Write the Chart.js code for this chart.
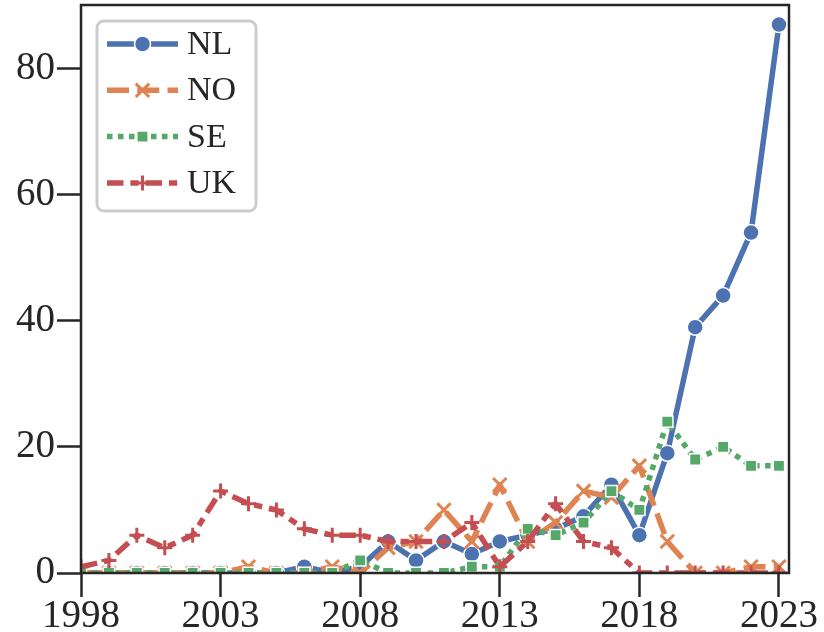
<!DOCTYPE html>
<html>
<head>
<meta charset="utf-8">
<script src="https://cdn.jsdelivr.net/npm/chart.js@4.4.0/dist/chart.umd.min.js"></script>
<style>
  html, body { margin: 0; padding: 0; background: #ffffff; }
  #caixa { width: 824px; height: 632px; }
</style>
</head>
<body>
<div id="caixa"><canvas id="grafico" width="824" height="632"></canvas></div>
<script>
// Dados
const anos = [1998, 1999, 2000, 2001, 2002, 2003, 2004, 2005, 2006, 2007, 2008, 2009, 2010,
              2011, 2012, 2013, 2014, 2015, 2016, 2017, 2018, 2019, 2020, 2021, 2022, 2023];
const valoresNL = [0, 0, 0, 0, 0, 0, 0, 0, 1, 0, 1, 5, 2, 5, 3, 5, 6, 7, 9, 14, 6, 19, 39, 44, 54, 87];
const valoresNO = [0, 0, 0, 0, 0, 0, 1, 0, 0, 1, 0, 4, 5, 10, 5, 14, 5, 8, 13, 12, 17, 5, 0, 0, 1, 1];
const valoresSE = [0, 0, 0, 0, 0, 0, 0, 0, 0, 0, 2, 0, 0, 0, 1, 1, 7, 6, 8, 13, 10, 24, 18, 20, 17, 17];
const valoresUK = [1, 2, 6, 4, 6, 13, 11, 10, 7, 6, 6, 5, 5, 5, 8, 1, 5, 11, 5, 4, 0, 0, 0, 0, 0, 0];

const ticksX = [1998, 2003, 2008, 2013, 2018, 2023];
const ticksY = [0, 20, 40, 60, 80];

const nomes = ['NL', 'NO', 'SE', 'UK'];
const cores = ['#4C72B0', '#DD8452', '#55A868', '#C44E52'];

const corEixo = '#262626';
const fonteSerif = "'Liberation Serif', 'DejaVu Serif', serif";
const espessura = 5.5;

// estilo de cada série (tracejado e marcador)
const estilos = [
  { dash: [], ponto: 'circle', raio: 8, bordaPonto: 1.5, corBorda: '#ffffff' },
  { dash: [22, 8.25], ponto: 'crossRot', raio: 9.5, bordaPonto: 3, corBorda: null },
  { dash: [5.5, 5.5], ponto: 'rect', raio: 8, bordaPonto: 1.5, corBorda: '#ffffff' },
  { dash: [16.5, 6.9, 8.25, 6.9], ponto: 'cross', raio: 7.5, bordaPonto: 3, corBorda: null }
];

const series = [valoresNL, valoresNO, valoresSE, valoresUK];

const datasets = series.map((valores, i) => {
  const e = estilos[i];
  return {
    label: nomes[i],
    data: anos.map((ano, k) => ({ x: ano, y: valores[k] })),
    borderColor: cores[i],
    backgroundColor: cores[i],
    borderWidth: espessura,
    borderDash: e.dash,
    borderCapStyle: 'butt',
    borderJoinStyle: 'round',
    tension: 0,
    pointStyle: e.ponto,
    pointRadius: e.raio,
    pointBorderWidth: e.bordaPonto,
    pointBackgroundColor: cores[i],
    pointBorderColor: e.corBorda || cores[i],
    order: 4 - i,   // UK por cima, como no original
    clip: 0
  };
});

// desenha um marcador (usado na legenda)
function desenharMarcador(ctx, e, cor, x, y) {
  ctx.save();
  ctx.setLineDash([]);
  ctx.fillStyle = cor;
  ctx.strokeStyle = e.corBorda || cor;
  ctx.lineWidth = e.bordaPonto;
  ctx.beginPath();
  const r = e.raio;
  if (e.ponto === 'circle') {
    ctx.arc(x, y, r, 0, Math.PI * 2);
    ctx.fill(); ctx.stroke();
  } else if (e.ponto === 'rect') {
    const s = Math.SQRT1_2 * r;
    ctx.rect(x - s, y - s, 2 * s, 2 * s);
    ctx.fill(); ctx.stroke();
  } else if (e.ponto === 'crossRot') {
    const s = Math.SQRT1_2 * r;
    ctx.moveTo(x - s, y - s); ctx.lineTo(x + s, y + s);
    ctx.moveTo(x - s, y + s); ctx.lineTo(x + s, y - s);
    ctx.stroke();
  } else {
    ctx.moveTo(x - r, y); ctx.lineTo(x + r, y);
    ctx.moveTo(x, y - r); ctx.lineTo(x, y + r);
    ctx.stroke();
  }
  ctx.restore();
}

// moldura dos quatro lados + legenda
const molduraLegenda = {
  id: 'molduraLegenda',
  afterDatasetsDraw(chart) {
    const ctx = chart.ctx;
    const a = chart.chartArea;
    ctx.save();
    ctx.strokeStyle = corEixo;
    ctx.lineWidth = 2.5;
    ctx.strokeRect(a.left, a.top, a.right - a.left, a.bottom - a.top);

    // caixa da legenda
    ctx.fillStyle = 'rgba(255,255,255,0.8)';
    ctx.strokeStyle = '#cccccc';
    ctx.lineWidth = 3;
    ctx.beginPath();
    ctx.roundRect(97, 21, 159, 190, 7);
    ctx.fill();
    ctx.stroke();

    ctx.font = '34px ' + fonteSerif;
    ctx.textBaseline = 'middle';
    ctx.textAlign = 'left';
    nomes.forEach((nome, i) => {
      const y = 44 + i * 46.3;
      const e = estilos[i];
      ctx.save();
      ctx.strokeStyle = cores[i];
      ctx.lineWidth = espessura;
      ctx.lineCap = 'butt';
      ctx.setLineDash(e.dash);
      ctx.beginPath();
      ctx.moveTo(107, y);
      ctx.lineTo(178, y);
      ctx.stroke();
      ctx.restore();
      desenharMarcador(ctx, e, cores[i], 142.5, y);
      ctx.fillStyle = corEixo;
      ctx.fillText(nome, 187, y + 1);
    });
    ctx.restore();
  }
};

const contexto = document.getElementById('grafico').getContext('2d');

const meuGrafico = new Chart(contexto, {
  type: 'line',
  data: { datasets: datasets },
  options: {
    responsive: false,
    devicePixelRatio: 1,
    animation: false,
    events: [],
    layout: { autoPadding: false, padding: { top: 5, right: 35, left: 0, bottom: 0 } },
    plugins: {
      legend: { display: false },
      tooltip: { enabled: false }
    },
    scales: {
      x: {
        type: 'linear',
        min: 1998,
        max: 2023.36,
        afterBuildTicks: eixo => { eixo.ticks = ticksX.map(v => ({ value: v })); },
        afterFit: eixo => {
          eixo.height = 59;
          eixo.paddingLeft = 0;
          eixo.paddingRight = 0;
        },
        grid: {
          drawOnChartArea: false,
          drawTicks: true,
          tickLength: 24,
          tickWidth: 2.5,
          tickColor: corEixo
        },
        border: { display: false },
        ticks: {
          color: corEixo,
          padding: -4,
          maxRotation: 0,
          autoSkip: false,
          font: { family: fonteSerif, size: 39 },
          callback: v => String(v)
        }
      },
      y: {
        type: 'linear',
        min: 0,
        max: 90.1,
        afterBuildTicks: eixo => { eixo.ticks = ticksY.map(v => ({ value: v })); },
        afterFit: eixo => {
          eixo.width = 81;
          eixo.paddingTop = 0;
          eixo.paddingBottom = 0;
        },
        grid: {
          drawOnChartArea: false,
          drawTicks: true,
          tickLength: 24,
          tickWidth: 2.5,
          tickColor: corEixo
        },
        border: { display: false },
        ticks: {
          color: corEixo,
          padding: 2,
          font: { family: fonteSerif, size: 39 },
          callback: v => String(v)
        }
      }
    }
  },
  plugins: [molduraLegenda]
});
</script>
</body>
</html>
